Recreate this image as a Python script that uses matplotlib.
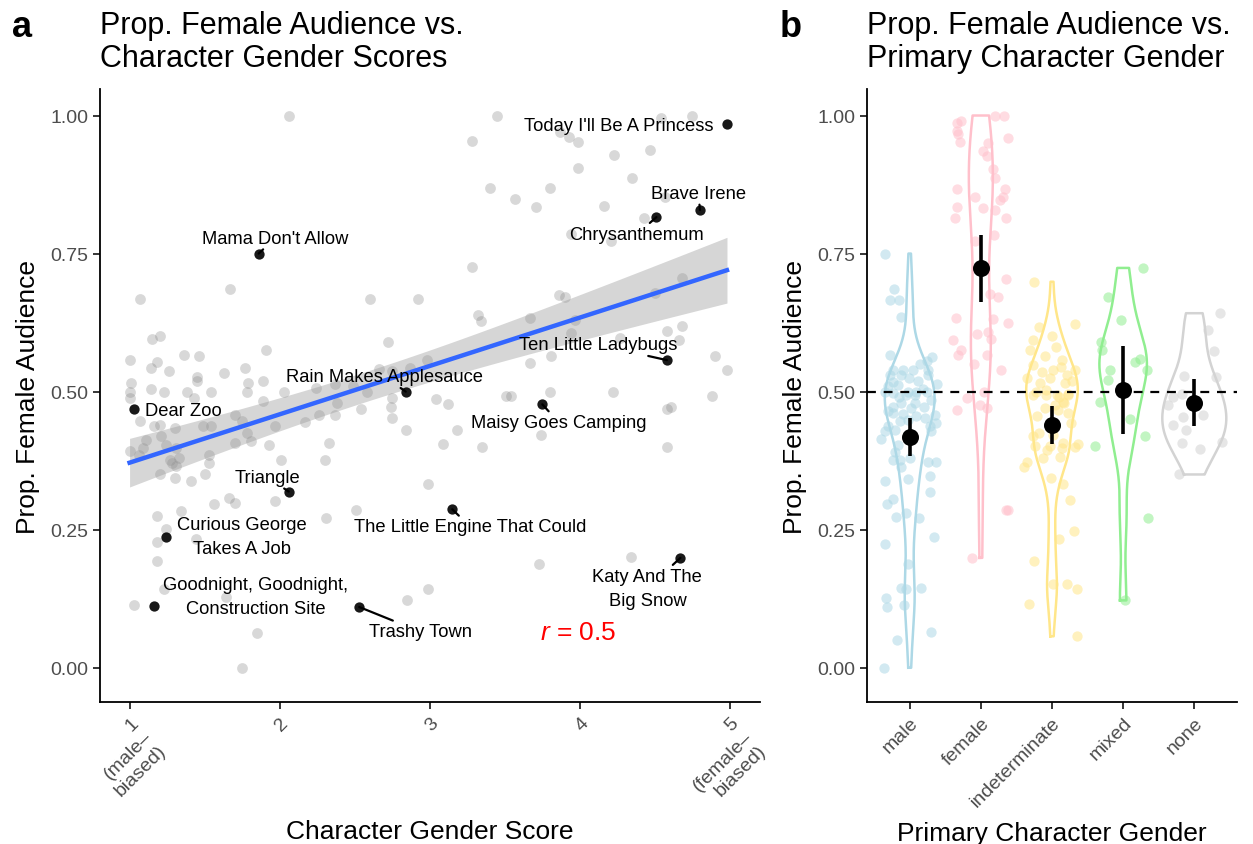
import numpy as np
import matplotlib
matplotlib.use('Agg')
import matplotlib.pyplot as plt

plt.rcParams['font.family'] = ['Liberation Sans', 'DejaVu Sans']
plt.rcParams['mathtext.fontset'] = 'custom'
plt.rcParams['mathtext.it'] = 'Liberation Sans:italic'
plt.rcParams['mathtext.rm'] = 'Liberation Sans'

# ---------------- Panel a data ----------------
gray_x = [2.06, 1.07, 1.67, 2.60, 2.92, 1.20, 1.15, 2.72, 1.91, 1.00, 1.36, 1.46, 1.18, 1.14, 1.26,
          1.77, 1.63, 1.45, 1.45, 1.89, 1.01, 2.66, 1.14, 1.23, 1.38, 1.54, 1.79, 1.78, 1.00, 1.00,
          1.43, 1.89, 1.07, 1.16, 1.20, 1.30, 1.49, 1.54, 1.70, 1.75, 1.78, 1.70, 1.81, 1.93, 1.97,
          1.11, 1.09, 1.21, 1.24, 1.00, 1.06, 1.31, 1.33, 1.27, 1.28, 1.31, 1.53, 1.53, 1.20, 1.30,
          1.41, 1.50, 1.66, 1.70, 1.56, 1.97, 1.18, 1.24, 1.18, 1.18, 1.34, 1.44, 2.31, 2.51, 1.03,
          1.23, 1.64, 1.85, 1.75, 2.85, 2.99, 2.99, 2.01, 2.30, 2.33, 2.54, 2.74, 2.84, 2.03, 2.24,
          2.37, 2.49, 2.58, 2.75, 2.87, 2.98, 2.38, 2.37, 2.26, 2.17, 2.75, 2.75, 3.04, 3.12, 3.18,
          3.09, 3.51, 3.54, 3.80, 4.22, 4.58, 4.61, 4.88, 3.35, 3.74, 4.58, 3.73, 4.34, 3.28, 3.86,
          3.90, 3.32, 3.34, 3.67, 3.97, 3.94, 4.50, 4.68, 4.58, 4.68, 4.66, 4.27, 3.81, 3.67, 4.90,
          4.98, 3.45, 4.54, 4.75, 3.87, 3.93, 3.99, 3.28, 4.23, 4.47, 3.99, 4.35, 3.40, 3.80, 3.57,
          3.71, 4.16, 4.57, 4.43, 3.94, 4.21]
gray_y = [1.000, 0.667, 0.686, 0.667, 0.667, 0.600, 0.595, 0.589, 0.575, 0.558, 0.567, 0.564, 0.553, 0.543, 0.538,
          0.543, 0.533, 0.527, 0.519, 0.519, 0.516, 0.541, 0.504, 0.500, 0.500, 0.500, 0.516, 0.500, 0.500, 0.489,
          0.489, 0.483, 0.446, 0.437, 0.440, 0.434, 0.437, 0.437, 0.458, 0.446, 0.425, 0.407, 0.410, 0.404, 0.437,
          0.413, 0.398, 0.419, 0.404, 0.392, 0.386, 0.398, 0.380, 0.377, 0.371, 0.365, 0.386, 0.371, 0.350, 0.344,
          0.338, 0.350, 0.308, 0.299, 0.296, 0.302, 0.275, 0.251, 0.227, 0.194, 0.284, 0.234, 0.272, 0.285, 0.114,
          0.143, 0.128, 0.063, 0.000, 0.123, 0.332, 0.143, 0.377, 0.377, 0.407, 0.468, 0.473, 0.431, 0.500, 0.507,
          0.513, 0.510, 0.500, 0.537, 0.543, 0.558, 0.480, 0.458, 0.457, 0.445, 0.489, 0.452, 0.487, 0.478, 0.431,
          0.406, 0.493, 0.492, 0.500, 0.500, 0.469, 0.472, 0.493, 0.400, 0.421, 0.400, 0.188, 0.200, 0.725, 0.675,
          0.672, 0.639, 0.627, 0.633, 0.630, 0.606, 0.678, 0.705, 0.609, 0.618, 0.594, 0.597, 0.565, 0.552, 0.565,
          0.539, 1.000, 0.995, 1.000, 0.970, 0.961, 0.952, 0.953, 0.929, 0.937, 0.905, 0.887, 0.868, 0.868, 0.848,
          0.834, 0.836, 0.853, 0.815, 0.785, 0.773]

lab_names = ["Today I'll Be A Princess", "Brave Irene", "Chrysanthemum", "Mama Don't Allow",
             "Ten Little Ladybugs", "Rain Makes Applesauce", "Dear Zoo", "Maisy Goes Camping",
             "Triangle", "The Little Engine That Could", "Curious George\nTakes A Job",
             "Goodnight, Goodnight,\nConstruction Site", "Trashy Town", "Katy And The\nBig Snow"]
lab_x = [4.98, 4.80, 4.51, 1.86, 4.58, 2.84, 1.03, 3.75, 2.06, 3.15, 1.24, 1.16, 2.53, 4.67]
lab_y = [0.985, 0.829, 0.816, 0.750, 0.557, 0.500, 0.468, 0.477, 0.319, 0.287, 0.237, 0.112, 0.110, 0.199]

# label placement (layout)
lab_tx = [4.26, 4.79, 4.38, 1.97, 4.12, 2.70, 1.357, 3.86, 1.92, 3.27, 1.75, 1.84, 2.94, 4.45]
lab_ty = [0.982, 0.859, 0.785, 0.778, 0.585, 0.527, 0.466, 0.444, 0.345, 0.255, 0.237, 0.129, 0.065, 0.144]
lab_seg = [False, True, True, True, True, True, False, True, True, True, False, False, True, True]

r_text = "0.5"
xtick_vals = [1, 2, 3, 4, 5]
xtick_labels = ["1\n(male–\nbiased)", "2", "3", "4", "5\n(female–\nbiased)"]
ytick_vals = [0.0, 0.25, 0.5, 0.75, 1.0]
ytick_labels = ["0.00", "0.25", "0.50", "0.75", "1.00"]

# ---------------- Panel b data ----------------
cats = ["male", "female", "indeterminate", "mixed", "none"]
male_y = [0.750, 0.685, 0.666, 0.666, 0.636, 0.566, 0.563, 0.556, 0.540, 0.540, 0.540, 0.540, 0.530, 0.530,
          0.530, 0.518, 0.512, 0.514, 0.500, 0.500, 0.500, 0.500, 0.497, 0.494, 0.494, 0.473, 0.479, 0.479,
          0.473, 0.461, 0.460, 0.455, 0.458, 0.443, 0.446, 0.449, 0.437, 0.428, 0.431, 0.437, 0.428, 0.415,
          0.391, 0.403, 0.376, 0.376, 0.379, 0.373, 0.373, 0.364, 0.339, 0.342, 0.347, 0.319, 0.305, 0.296,
          0.280, 0.273, 0.272, 0.237, 0.225, 0.187, 0.145, 0.142, 0.144, 0.127, 0.110, 0.113, 0.064, 0.051, 0.000,
          0.520, 0.510, 0.505, 0.490, 0.485, 0.470, 0.465, 0.550, 0.525, 0.452]
male_jit = [-0.35, -0.22, -0.28, -0.15, -0.12, -0.28, 0.31, 0.24, -0.23, -0.09, 0.04, 0.26, -0.28, -0.12,
            0.26, -0.23, -0.16, 0.38, -0.35, -0.02, 0.09, 0.24, -0.23, -0.05, 0.08, -0.23, -0.12, 0.08,
            0.20, -0.23, -0.09, 0.09, 0.35, 0.37, -0.14, -0.02, -0.30, -0.35, -0.21, 0.28, 0.30, -0.40,
            -0.21, -0.16, -0.14, -0.23, 0.00, 0.26, 0.37, -0.12, -0.35, -0.02, 0.28, 0.28, -0.24, -0.32,
            -0.05, -0.19, 0.13, 0.34, -0.35, -0.02, -0.12, -0.05, 0.16, -0.33, -0.32, -0.08, 0.30, -0.18, -0.36,
            0.12, -0.30, 0.18, -0.15, 0.30, 0.02, -0.31, 0.14, -0.01, 0.22]
female_y = [0.987, 0.990, 0.972, 0.967, 0.952, 1.000, 1.000, 0.960, 0.951, 0.936, 0.927, 0.903, 0.887, 0.867,
            0.867, 0.852, 0.847, 0.852, 0.835, 0.833, 0.829, 0.814, 0.815, 0.784, 0.773, 0.704, 0.676, 0.672,
            0.634, 0.632, 0.625, 0.605, 0.608, 0.596, 0.593, 0.576, 0.566, 0.566, 0.540, 0.488, 0.476, 0.470,
            0.467, 0.285, 0.285, 0.199, 0.500, 0.550]
female_jit = [-0.33, -0.28, -0.34, -0.32, -0.30, 0.20, 0.32, 0.38, 0.10, 0.03, 0.08, 0.17, 0.20, -0.33,
              0.34, 0.31, 0.27, -0.08, -0.34, 0.03, 0.20, -0.37, 0.35, 0.19, -0.08, 0.36, 0.13, 0.24,
              -0.35, 0.17, 0.38, -0.06, 0.10, 0.14, -0.39, -0.28, -0.32, 0.08, 0.29, -0.20, -0.01, 0.08,
              -0.34, 0.36, 0.38, -0.12, 0.05, -0.10]
indet_y = [0.699, 0.617, 0.622, 0.601, 0.594, 0.581, 0.575, 0.565, 0.558, 0.549, 0.540, 0.540, 0.536, 0.545,
           0.530, 0.525, 0.525, 0.520, 0.515, 0.515, 0.500, 0.503, 0.490, 0.495, 0.480, 0.470, 0.475, 0.494,
           0.494, 0.494, 0.494, 0.482, 0.466, 0.462, 0.456, 0.443, 0.420, 0.425, 0.421, 0.407, 0.401, 0.401,
           0.394, 0.398, 0.400, 0.406, 0.379, 0.382, 0.373, 0.364, 0.343, 0.333, 0.303, 0.248, 0.233, 0.193,
           0.151, 0.151, 0.142, 0.115, 0.057]
indet_jit = [-0.26, -0.18, 0.32, 0.00, -0.27, 0.06, -0.31, -0.10, 0.14, -0.27, 0.32, 0.01, -0.14, 0.13,
             0.21, -0.35, -0.03, 0.28, 0.18, -0.17, -0.23, -0.08, 0.10, 0.22, 0.17, -0.10, 0.04, -0.27,
             -0.08, 0.07, 0.23, 0.15, 0.08, 0.23, -0.21, 0.27, -0.27, -0.18, 0.01, 0.15, -0.24, -0.03,
             -0.07, 0.14, 0.32, 0.37, -0.13, 0.11, -0.35, -0.39, -0.01, 0.15, 0.25, 0.31, 0.10, -0.25,
             0.01, 0.21, 0.35, -0.32, 0.35]
mixed_y = [0.724, 0.671, 0.629, 0.589, 0.575, 0.553, 0.559, 0.540, 0.540, 0.521, 0.482, 0.450, 0.420, 0.401,
           0.272, 0.122]
mixed_jit = [0.28, -0.21, -0.03, -0.31, -0.30, 0.17, 0.24, 0.33, -0.18, -0.21, -0.33, 0.10, 0.31, -0.39,
             0.35, 0.03]
none_y = [0.642, 0.611, 0.573, 0.528, 0.526, 0.495, 0.476, 0.490, 0.458, 0.454, 0.440, 0.430, 0.407, 0.396,
          0.408, 0.350]
none_jit = [0.36, 0.19, 0.27, -0.14, 0.30, -0.18, -0.37, -0.30, 0.12, -0.16, -0.30, -0.11, -0.18, 0.08,
            0.39, -0.21]
cat_colors = ["#ADD8E6", "#FFC0CB", "#FFE68A", "#90EE90", "#D3D3D3"]

# ---------------- Figure ----------------
W, H = 1253, 845
fig = plt.figure(figsize=(W / 100, H / 100), dpi=100)
ax1 = fig.add_axes([100 / W, 1 - 703 / H, 660 / W, 613 / H])
ax2 = fig.add_axes([867 / W, 1 - 703 / H, 370 / W, 613 / H])

tick_gray = "#4D4D4D"
for ax in (ax1, ax2):
    ax.spines['top'].set_visible(False)
    ax.spines['right'].set_visible(False)
    ax.spines['left'].set_linewidth(1.3)
    ax.spines['bottom'].set_linewidth(1.3)
    ax.tick_params(axis='both', length=5, width=1.1, color='black', labelcolor=tick_gray, labelsize=14)
    ax.set_ylim(-0.062, 1.048)
    ax.set_yticks(ytick_vals)
    ax.set_yticklabels(ytick_labels)
    ax.set_ylabel("Prop. Female Audience", fontsize=19, labelpad=7)

# Panel a
gx = np.array(gray_x); gy = np.array(gray_y)
allx = np.concatenate([gx, lab_x]); ally = np.concatenate([gy, lab_y])
b1, b0 = np.polyfit(allx, ally, 1)
xs = np.linspace(allx.min(), allx.max(), 100)
n = len(allx)
res = ally - (b0 + b1 * allx)
s = np.sqrt(np.sum(res ** 2) / (n - 2))
sxx = np.sum((allx - allx.mean()) ** 2)
se = s * np.sqrt(1 / n + (xs - allx.mean()) ** 2 / sxx)
fit = b0 + b1 * xs

ax1.scatter(gx, gy, s=60, color='#7F7F7F', alpha=0.3, linewidths=0, zorder=2)
ax1.fill_between(xs, fit - 1.97 * se, fit + 1.97 * se, color='#999999', alpha=0.4, linewidth=0, zorder=3)
ax1.plot(xs, fit, color='#3366FF', lw=3.2, zorder=4)
ax1.scatter(lab_x, lab_y, s=55, color='black', alpha=0.9, linewidths=0, zorder=6)
for name, px, py, tx, ty, seg in zip(lab_names, lab_x, lab_y, lab_tx, lab_ty, lab_seg):
    if seg:
        ax1.annotate(name, xy=(px, py), xytext=(tx, ty), ha='center', va='center', fontsize=13.2,
                     linespacing=1.55, zorder=7,
                     arrowprops=dict(arrowstyle='-', color='black', lw=1.6, shrinkA=0, shrinkB=0))
    else:
        ax1.text(tx, ty, name, ha='center', va='center', fontsize=13.2, linespacing=1.55, zorder=7)
ax1.text(3.99, 0.065, r'$r$ = ' + r_text, color='red', fontsize=19, ha='center', va='center')

ax1.set_xlim(0.803, 5.2)
ax1.set_xticks(xtick_vals)
ax1.set_xticklabels(xtick_labels, rotation=45, ha='right', va='top', rotation_mode='anchor')
ax1.set_xlabel("Character Gender Score", fontsize=19, labelpad=8)

# Panel b
def nrd0(v):
    v = np.asarray(v)
    sd = np.std(v, ddof=1)
    iqr = np.subtract(*np.percentile(v, [75, 25]))
    lo = min(sd, iqr / 1.34) if iqr > 0 else sd
    return 0.9 * lo * len(v) ** (-0.2)

def kde(v, grid, bw):
    v = np.asarray(v)
    z = (grid[:, None] - v[None, :]) / bw
    return np.exp(-0.5 * z ** 2).sum(axis=1) / (len(v) * bw * np.sqrt(2 * np.pi))

def tq(df):
    return 1.96 + 2.37 / df + 2.8 / df ** 2

groups = [(male_y, male_jit), (female_y, female_jit), (indet_y, indet_jit), (mixed_y, mixed_jit), (none_y, none_jit)]
dens_list = []
for yv, _ in groups:
    grid = np.linspace(min(yv), max(yv), 512)
    dens_list.append((grid, kde(yv, grid, nrd0(yv))))
dmax = max(d.max() for _, d in dens_list)

for i, ((yv, jv), (grid, d), col) in enumerate(zip(groups, dens_list, cat_colors)):
    pos = i + 1
    ax2.scatter(pos + np.array(jv), yv, s=55, color=col, alpha=0.55, linewidths=0, zorder=2)
    hw = 0.45 * d / dmax
    px = np.concatenate([pos - hw, (pos + hw)[::-1], [pos - hw[0]]])
    py = np.concatenate([grid, grid[::-1], [grid[0]]])
    ax2.plot(px, py, color=col, lw=1.8, zorder=3)

ax2.axhline(0.5, color='black', lw=1.6, ls=(0, (4, 3.5)), zorder=4)
for i, (yv, _) in enumerate(groups):
    yv = np.asarray(yv)
    m = yv.mean()
    h = tq(len(yv) - 1) * yv.std(ddof=1) / np.sqrt(len(yv))
    ax2.plot([i + 1, i + 1], [m - h, m + h], color='black', lw=2.6, zorder=5, solid_capstyle='butt')
    ax2.scatter([i + 1], [m], s=150, color='black', zorder=6, linewidths=0)

ax2.set_xlim(0.4, 5.6)
ax2.set_xticks(range(1, 6))
ax2.set_xticklabels(cats, rotation=45, ha='right', va='top', rotation_mode='anchor')
ax2.set_xlabel("Primary Character Gender", fontsize=19, labelpad=8)

# Titles and panel letters
fig.text(100 / W, 1 - 11 / H, "Prop. Female Audience vs.\nCharacter Gender Scores", fontsize=22,
         ha='left', va='top', linespacing=1.14)
fig.text(867 / W, 1 - 11 / H, "Prop. Female Audience vs.\nPrimary Character Gender", fontsize=22,
         ha='left', va='top', linespacing=1.14)
fig.text(12 / W, 1 - 37 / H, "a", fontsize=26, fontweight='bold', ha='left', va='baseline')
fig.text(780 / W, 1 - 37 / H, "b", fontsize=26, fontweight='bold', ha='left', va='baseline')

fig.savefig("out.png", dpi=100)
